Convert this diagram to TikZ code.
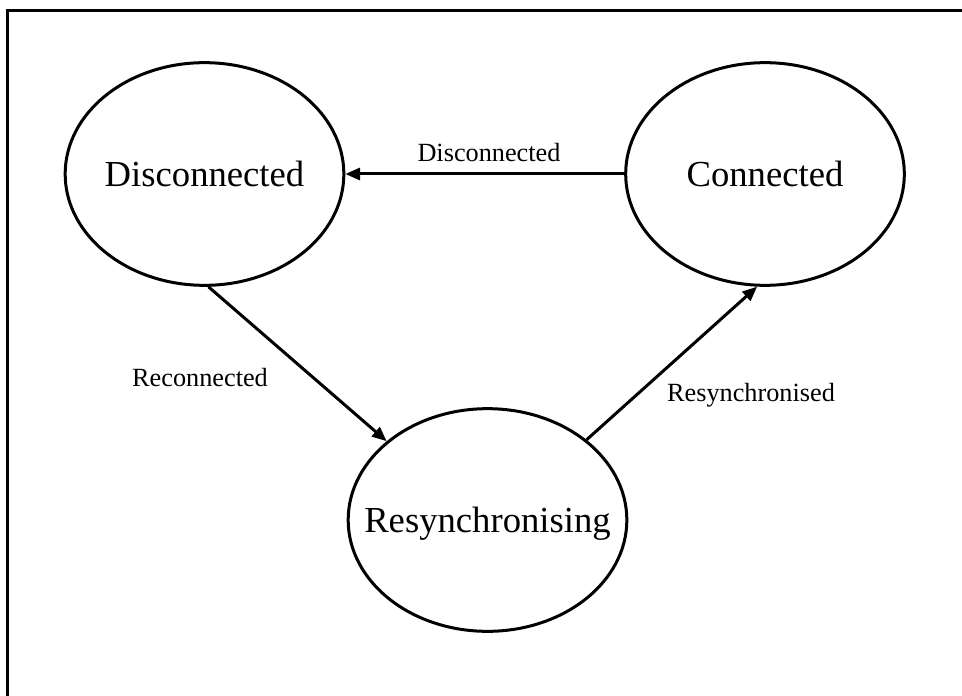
\documentclass[tikz,border=0pt]{standalone}
\usepackage{fontspec}
\setmainfont{Liberation Serif}
\usetikzlibrary{shapes.geometric,arrows.meta}
\tikzset{
  state/.style={ellipse, draw, line width=2.25pt, inner ysep=0pt, inner xsep=-24pt,
    minimum width=209pt, minimum height=167pt,
    font=\fontsize{27.5}{33}\selectfont, text height=18pt, text depth=0pt},
  trans/.style={line width=2.25pt, -{Triangle[length=11pt,width=9pt]}},
  tlabel/.style={font=\fontsize{19.7}{24}\selectfont, inner sep=0pt,
    text height=13pt, text depth=0pt},
  frame/.style={line width=2.25pt}
}
\begin{document}
\begin{tikzpicture}[x=0.75pt,y=-0.75pt]
  \useasboundingbox (0,0) rectangle (962,695);
  % open frame along the top and left edges
  \coordinate (fbl) at (7.5,700);
  \coordinate (ftl) at (7.5,10.5);
  \coordinate (ftr) at (970,10.5);
  \draw[frame] (fbl) -- (ftl) -- (ftr);
  % states
  \node[state] (D) at (204.5,174) {Disconnected};
  \node[state] (C) at (765,174) {Connected};
  \node[state] (R) at (487.5,520) {Resynchronising};
  % transitions
  \draw[trans] (C.west) -- (D.east);
  \draw[trans] (D.-88) -- (R.142);
  \draw[trans] (R.39) -- (C.-94);
  % transition labels
  \node[tlabel] (lD) at (489,153) {Disconnected};
  \node[tlabel] (lR) at (200,378) {Reconnected};
  \node[tlabel] (lS) at (751,393) {Resynchronised};
\end{tikzpicture}
\end{document}
